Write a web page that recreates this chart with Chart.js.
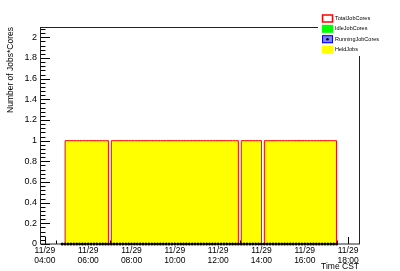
<!DOCTYPE html>
<html>
<head>
<meta charset="utf-8">
<title>Job cores</title>
<script src="https://cdn.jsdelivr.net/npm/chart.js@4"></script>
<style>
  html, body { margin: 0; padding: 0; background: #fff; }
</style>
</head>
<body>
<canvas id="jobsChart" width="400" height="271"></canvas>
<script>
// Sample times on 11/29 (CST), one row per hour
const sampleTimes = [
  "04:48", "04:56",
  "05:04", "05:12", "05:20", "05:28", "05:36", "05:44", "05:52",
  "06:00", "06:08", "06:16", "06:24", "06:32", "06:40", "06:48", "06:56",
  "07:04", "07:12", "07:20", "07:28", "07:36", "07:44", "07:52",
  "08:00", "08:08", "08:16", "08:24", "08:32", "08:40", "08:48", "08:56",
  "09:04", "09:12", "09:20", "09:28", "09:36", "09:44", "09:52",
  "10:00", "10:08", "10:16", "10:24", "10:32", "10:40", "10:48", "10:56",
  "11:04", "11:12", "11:20", "11:28", "11:36", "11:44", "11:52",
  "12:00", "12:08", "12:16", "12:24", "12:32", "12:40", "12:48", "12:56",
  "13:04", "13:12", "13:20", "13:28", "13:36", "13:44", "13:52",
  "14:00", "14:08", "14:16", "14:24", "14:32", "14:40", "14:48", "14:56",
  "15:04", "15:12", "15:20", "15:28", "15:36", "15:44", "15:52",
  "16:00", "16:08", "16:16", "16:24", "16:32", "16:40", "16:48", "16:56",
  "17:04", "17:12", "17:20", "17:28",
];

// Each value holds until the next sample time
const heldJobs = [
  0, 1,
  1, 1, 1, 1, 1, 1, 1,
  1, 1, 1, 1, 1, 1, 1, 0,
  1, 1, 1, 1, 1, 1, 1,
  1, 1, 1, 1, 1, 1, 1, 1,
  1, 1, 1, 1, 1, 1, 1,
  1, 1, 1, 1, 1, 1, 1, 1,
  1, 1, 1, 1, 1, 1, 1,
  1, 1, 1, 1, 1, 1, 1, 0,
  1, 1, 1, 1, 1, 1, 1,
  0, 1, 1, 1, 1, 1, 1, 1,
  1, 1, 1, 1, 1, 1, 1,
  1, 1, 1, 1, 1, 1, 1, 1,
  1, 1, 1, 0,
];

const totalJobCores = [
  0, 1,
  1, 1, 1, 1, 1, 1, 1,
  1, 1, 1, 1, 1, 1, 1, 0,
  1, 1, 1, 1, 1, 1, 1,
  1, 1, 1, 1, 1, 1, 1, 1,
  1, 1, 1, 1, 1, 1, 1,
  1, 1, 1, 1, 1, 1, 1, 1,
  1, 1, 1, 1, 1, 1, 1,
  1, 1, 1, 1, 1, 1, 1, 0,
  1, 1, 1, 1, 1, 1, 1,
  0, 1, 1, 1, 1, 1, 1, 1,
  1, 1, 1, 1, 1, 1, 1,
  1, 1, 1, 1, 1, 1, 1, 1,
  1, 1, 1, 0,
];

const runningJobCores = [
  0, 0,
  0, 0, 0, 0, 0, 0, 0,
  0, 0, 0, 0, 0, 0, 0, 0,
  0, 0, 0, 0, 0, 0, 0,
  0, 0, 0, 0, 0, 0, 0, 0,
  0, 0, 0, 0, 0, 0, 0,
  0, 0, 0, 0, 0, 0, 0, 0,
  0, 0, 0, 0, 0, 0, 0,
  0, 0, 0, 0, 0, 0, 0, 0,
  0, 0, 0, 0, 0, 0, 0,
  0, 0, 0, 0, 0, 0, 0, 0,
  0, 0, 0, 0, 0, 0, 0,
  0, 0, 0, 0, 0, 0, 0, 0,
  0, 0, 0, 0,
];

// Axis ticks and texts
const dateLabel = "11/29";
const xTickHours = [4, 6, 8, 10, 12, 14, 16, 18];
const yTickValues = [0, 0.2, 0.4, 0.6, 0.8, 1, 1.2, 1.4, 1.6, 1.8, 2];
const yTitle = "Number of Jobs*Cores";
const xTitle = "Time CST";
const legendItems = ["TotalJobCores", "IdleJobCores", "RunningJobCores", "HeldJobs"];

const FONT = "'Liberation Sans', Arial, sans-serif";

// "HH:MM" -> decimal hours
function toHours(t) {
  const parts = t.split(":").map(Number);
  return parts[0] + parts[1] / 60;
}

function toPoints(values) {
  return sampleTimes.map((t, i) => ({ x: toHours(t), y: values[i] }));
}

function formatHour(h) {
  return String(h).padStart(2, "0") + ":00";
}

// Ticks under the data (ROOT style, pointing into the frame)
function drawTicks(chart) {
  const ctx = chart.ctx;
  const xs = chart.scales.x;
  const ys = chart.scales.y;
  const { left, bottom } = chart.chartArea;
  ctx.save();
  ctx.strokeStyle = "#000";
  ctx.lineWidth = 1;
  ctx.beginPath();
  // y: major every 0.2, minor every 0.04
  for (let i = 0; i * 0.04 <= ys.max + 1e-9; i++) {
    const py = Math.round(ys.getPixelForValue(i * 0.04)) + 0.5;
    const len = i % 5 === 0 ? 9 : 4.5;
    ctx.moveTo(left, py);
    ctx.lineTo(left + len, py);
  }
  // x: major every 2 h, minor every 30 min
  for (let i = Math.ceil(xs.min * 2); i / 2 <= xs.max; i++) {
    const px = Math.round(xs.getPixelForValue(i / 2)) + 0.5;
    const len = i % 4 === 0 ? 7 : 3.5;
    ctx.moveTo(px, bottom);
    ctx.lineTo(px, bottom - len);
  }
  ctx.stroke();
  ctx.restore();
}

function drawFrame(chart) {
  const ctx = chart.ctx;
  const { left, right, top, bottom } = chart.chartArea;
  ctx.save();
  ctx.strokeStyle = "#222";
  ctx.lineWidth = 1;
  ctx.strokeRect(Math.round(left) - 0.5, Math.round(top) + 0.5,
    Math.round(right - left), Math.round(bottom - top) - 0.5);
  ctx.restore();
}

function drawTitlesAndLegend(chart) {
  const ctx = chart.ctx;
  const { right, top } = chart.chartArea;
  ctx.save();
  ctx.fillStyle = "#000";

  // y title, aligned to the top of the frame
  ctx.font = "8.5px " + FONT;
  ctx.save();
  ctx.translate(11, top);
  ctx.rotate(-Math.PI / 2);
  ctx.textAlign = "right";
  ctx.textBaseline = "middle";
  ctx.fillText(yTitle, 0, 0);
  ctx.restore();

  // x title, bottom right
  ctx.textAlign = "right";
  ctx.textBaseline = "middle";
  ctx.fillText(xTitle, right - 1, 266.5);

  // legend box (covers the frame corner)
  ctx.fillStyle = "#fff";
  ctx.fillRect(318, 11, 82, 45);
  const boxX = 322, boxW = 11, boxH = 8;
  const rowY = [18.5, 28.8, 39.2, 49.6];
  // TotalJobCores
  ctx.fillStyle = "#fff";
  ctx.fillRect(boxX, rowY[0] - boxH / 2, boxW, boxH);
  ctx.strokeStyle = "#ff0000";
  ctx.lineWidth = 1.5;
  ctx.strokeRect(boxX + 0.5, rowY[0] - boxH / 2 + 0.5, boxW - 1, boxH - 1);
  // IdleJobCores
  ctx.fillStyle = "#00ff00";
  ctx.fillRect(boxX, rowY[1] - boxH / 2, boxW, boxH);
  // RunningJobCores
  ctx.fillStyle = "#7f7fff";
  ctx.fillRect(boxX, rowY[2] - boxH / 2, boxW, boxH);
  ctx.strokeStyle = "#0000ff";
  ctx.lineWidth = 1;
  ctx.strokeRect(boxX + 0.5, rowY[2] - boxH / 2 + 0.5, boxW - 1, boxH - 1);
  ctx.fillStyle = "#000";
  ctx.beginPath();
  ctx.arc(boxX + boxW / 2, rowY[2], 1.3, 0, Math.PI * 2);
  ctx.fill();
  // HeldJobs
  ctx.fillStyle = "#ffff00";
  ctx.fillRect(boxX, rowY[3] - boxH / 2, boxW, boxH);

  ctx.fillStyle = "#000";
  ctx.font = "5.5px " + FONT;
  ctx.textAlign = "left";
  ctx.textBaseline = "middle";
  legendItems.forEach((label, i) => ctx.fillText(label, 335, rowY[i]));
  ctx.restore();
}

const rootStylePlugin = {
  id: "rootStyle",
  beforeDatasetsDraw(chart) {
    drawTicks(chart);
  },
  afterDatasetDraw(chart, args) {
    // frame goes over the fill and outline, under the markers
    if (args.index === 1) drawFrame(chart);
  },
  afterDraw(chart) {
    drawTitlesAndLegend(chart);
  },
};

new Chart(document.getElementById("jobsChart"), {
  type: "line",
  data: {
    datasets: [
      {
        label: "HeldJobs",
        data: toPoints(heldJobs),
        stepped: true,
        fill: "origin",
        backgroundColor: "#ffff00",
        borderWidth: 0,
        pointRadius: 0,
        order: 3,
      },
      {
        label: "TotalJobCores",
        data: toPoints(totalJobCores),
        stepped: true,
        fill: false,
        borderColor: "#ff0000",
        borderWidth: 1,
        pointRadius: 0,
        order: 2,
      },
      {
        label: "RunningJobCores",
        data: toPoints(runningJobCores),
        showLine: false,
        pointRadius: 1.5,
        pointBackgroundColor: "#000",
        pointBorderWidth: 0,
        clip: false,
        order: 1,
      },
    ],
  },
  options: {
    responsive: false,
    animation: false,
    events: [],
    layout: { padding: { left: 0, right: 40, top: 27, bottom: 0 } },
    plugins: {
      legend: { display: false },
      tooltip: { enabled: false },
    },
    scales: {
      x: {
        type: "linear",
        min: 3.82,
        max: 18.55,
        grid: { display: false, drawTicks: false },
        border: { display: false },
        afterBuildTicks: (scale) => {
          scale.ticks = xTickHours.map((v) => ({ value: v }));
        },
        afterFit: (scale) => {
          scale.height = 27;
        },
        ticks: {
          autoSkip: false,
          maxRotation: 0,
          padding: 2,
          color: "#000",
          font: { family: FONT, size: 8.5, lineHeight: "10px" },
          callback: (value) => [dateLabel, formatHour(value)],
        },
      },
      y: {
        min: 0,
        max: 2.1,
        grid: { display: false, drawTicks: false },
        border: { display: false },
        afterBuildTicks: (scale) => {
          scale.ticks = yTickValues.map((v) => ({ value: v }));
        },
        afterFit: (scale) => {
          scale.width = 41;
        },
        ticks: {
          padding: 4,
          color: "#000",
          font: { family: FONT, size: 9 },
          callback: (value) => String(Number(value.toFixed(1))),
        },
      },
    },
  },
  plugins: [rootStylePlugin],
});
</script>
</body>
</html>
